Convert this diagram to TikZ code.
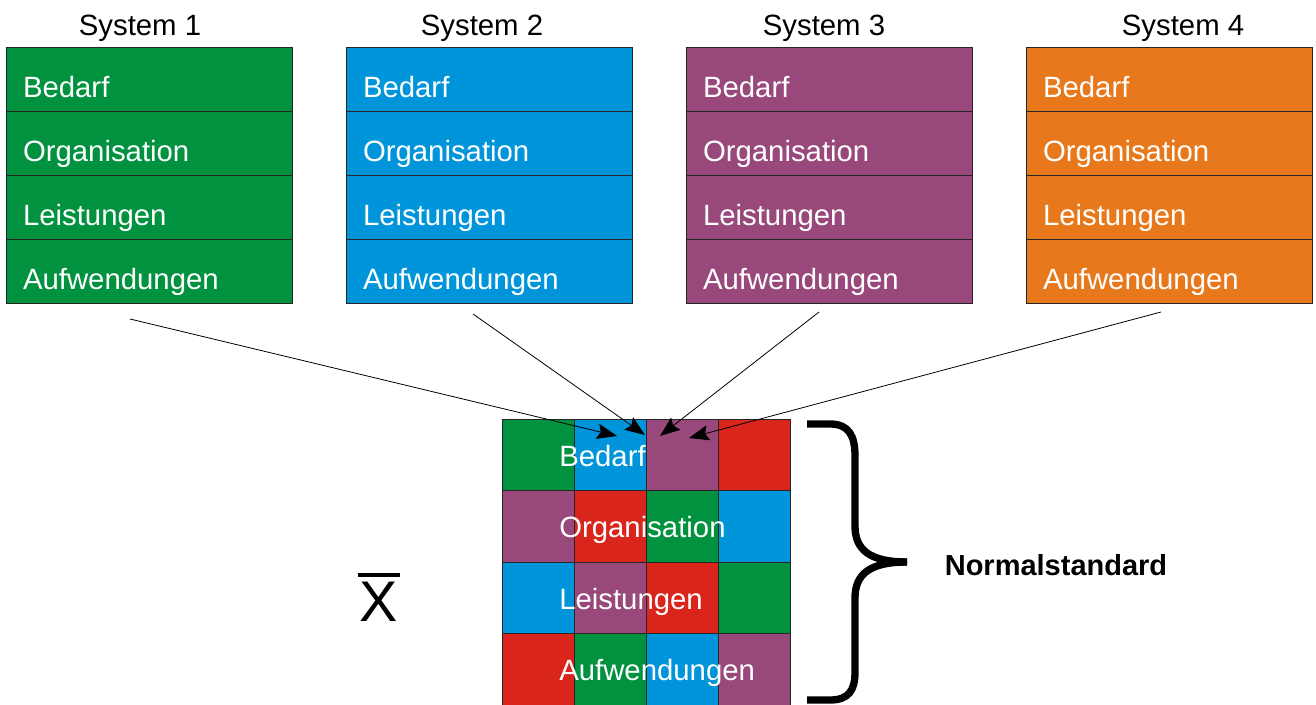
\documentclass[tikz,border=0pt]{standalone}
\usepackage{fontspec}
\setmainfont{Liberation Sans}
\usepackage{tikz}
\usetikzlibrary{positioning}
\usetikzlibrary{arrows.meta}
\usetikzlibrary{calc}

\definecolor{sysgreen}{RGB}{0,146,63}
\definecolor{sysblue}{RGB}{0,149,218}
\definecolor{syspurple}{RGB}{152,72,122}
\definecolor{sysorange}{RGB}{232,120,28}
\definecolor{sysred}{RGB}{218,37,29}

\tikzset{
  rowbox/.style={draw=black!85, line width=0.6pt, fill=#1, text=white,
    minimum width=214.5pt, minimum height=48pt, text width=189pt, align=left,
    inner sep=0pt, outer sep=0pt, font=\fontsize{22}{26}\selectfont,
    text height=28.5pt, text depth=0pt},
  cell/.style={draw=black!85, line width=0.6pt, fill=#1,
    minimum width=54pt, minimum height=53.625pt, inner sep=0pt, outer sep=0pt},
  gridtext/.style={text=white, inner sep=0pt, font=\fontsize{22}{26}\selectfont,
    text height=16pt, text depth=0pt, anchor=west},
  syslabel/.style={inner sep=0pt, font=\fontsize{22}{26}\selectfont,
    text height=16pt, text depth=0pt},
  pointer/.style={line width=0.6pt, -{Stealth[length=15pt,width=11.5pt,inset=2.5pt]}}
}

\begin{document}
\begin{tikzpicture}[x=0.75pt, y=-0.75pt]
    \useasboundingbox (0,0) rectangle (1316,705);

    % Systeme oben
    \node[syslabel] (lab1) at (140,24.5) {System 1};
    \node[syslabel] (lab2) at (482,24.5) {System 2};
    \node[syslabel] (lab3) at (824,24.5) {System 3};
    \node[syslabel] (lab4) at (1183,24.5) {System 4};

    \node[rowbox=sysgreen, anchor=north west] (s1bed) at (6,47) {Bedarf};
    \node[rowbox=sysgreen, below=0pt of s1bed] (s1org) {Organisation};
    \node[rowbox=sysgreen, below=0pt of s1org] (s1lei) {Leistungen};
    \node[rowbox=sysgreen, below=0pt of s1lei] (s1auf) {Aufwendungen};

    \node[rowbox=sysblue, anchor=north west] (s2bed) at (346,47) {Bedarf};
    \node[rowbox=sysblue, below=0pt of s2bed] (s2org) {Organisation};
    \node[rowbox=sysblue, below=0pt of s2org] (s2lei) {Leistungen};
    \node[rowbox=sysblue, below=0pt of s2lei] (s2auf) {Aufwendungen};

    \node[rowbox=syspurple, anchor=north west] (s3bed) at (686,47) {Bedarf};
    \node[rowbox=syspurple, below=0pt of s3bed] (s3org) {Organisation};
    \node[rowbox=syspurple, below=0pt of s3org] (s3lei) {Leistungen};
    \node[rowbox=syspurple, below=0pt of s3lei] (s3auf) {Aufwendungen};

    \node[rowbox=sysorange, anchor=north west] (s4bed) at (1026,47) {Bedarf};
    \node[rowbox=sysorange, below=0pt of s4bed] (s4org) {Organisation};
    \node[rowbox=sysorange, below=0pt of s4org] (s4lei) {Leistungen};
    \node[rowbox=sysorange, below=0pt of s4lei] (s4auf) {Aufwendungen};

    % Raster unten
    \node[cell=sysgreen, anchor=north west] (g11) at (502,419) {};
    \node[cell=sysblue, right=0pt of g11] (g12) {};
    \node[cell=syspurple, right=0pt of g12] (g13) {};
    \node[cell=sysred, right=0pt of g13] (g14) {};
    \node[cell=syspurple, below=0pt of g11] (g21) {};
    \node[cell=sysred, right=0pt of g21] (g22) {};
    \node[cell=sysgreen, right=0pt of g22] (g23) {};
    \node[cell=sysblue, right=0pt of g23] (g24) {};
    \node[cell=sysblue, below=0pt of g21] (g31) {};
    \node[cell=syspurple, right=0pt of g31] (g32) {};
    \node[cell=sysred, right=0pt of g32] (g33) {};
    \node[cell=sysgreen, right=0pt of g33] (g34) {};
    \node[cell=sysred, below=0pt of g31] (g41) {};
    \node[cell=sysgreen, right=0pt of g41] (g42) {};
    \node[cell=sysblue, right=0pt of g42] (g43) {};
    \node[cell=syspurple, right=0pt of g43] (g44) {};

    \node[gridtext] (gbed) at (559,455.5) {Bedarf};
    \node[gridtext] (gorg) at (559,527) {Organisation};
    \node[gridtext] (glei) at (559,598.5) {Leistungen};
    \node[gridtext] (gauf) at (559,670) {Aufwendungen};

    % Pfeile
    \coordinate (from1) at (130,319);
    \coordinate (from2) at (473,314);
    \coordinate (from3) at (819,312);
    \coordinate (from4) at (1161,312);
    \coordinate (to1) at (617,436);
    \coordinate (to2) at (645,435);
    \coordinate (to3) at (660,436);
    \coordinate (to4) at (689,438);
    \draw[pointer] (from1) -- (to1);
    \draw[pointer] (from2) -- (to2);
    \draw[pointer] (from3) -- (to3);
    \draw[pointer] (from4) -- (to4);

    % Mittelwert
    \node[inner sep=0pt, font=\fontsize{43}{50}\selectfont, anchor=base] (xbar) at (379,621) {X};
    \draw[line width=3pt] ([xshift=-1.5pt,yshift=4.5pt]xbar.north west) -- ([xshift=1pt,yshift=4.5pt]xbar.north east);

    % Klammer
    \draw[line width=5.5pt] (807,424) -- (830,424) .. controls (849,424) and (855,436) .. (855,456)
        -- (855,526) .. controls (855,550) and (870,562) .. (907,562);
    \draw[line width=5.5pt] (907,562) .. controls (870,562) and (855,574) .. (855,598)
        -- (855,672) .. controls (855,690) and (849,700) .. (830,700) -- (807,700);
    \node[syslabel, font=\fontsize{21.75}{26}\selectfont\bfseries] (norm) at (1056,564.5) {Normalstandard};
\end{tikzpicture}
\end{document}
